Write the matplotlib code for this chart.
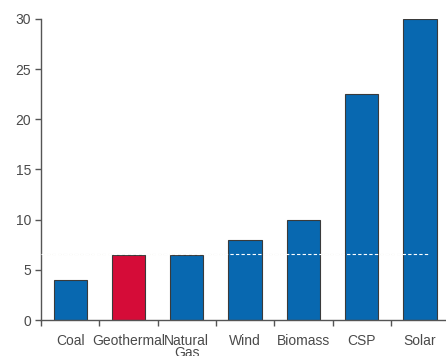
import matplotlib.pyplot as plt
import numpy as np

categories = ['Coal', 'Geothermal', 'Natural\nGas', 'Wind', 'Biomass', 'CSP', 'Solar']
values = [4, 6.5, 6.5, 8, 10, 22.5, 30]
highlight = 'Geothermal'
ref_level = 6.6

plt.rcParams['font.family'] = ['Liberation Sans', 'DejaVu Sans']

fig = plt.figure(figsize=(4.46, 3.56), dpi=100)
ax = fig.add_axes([0.092, 0.101, 0.915, 0.846])

x = np.arange(len(categories))
colors = ['#d50c38' if c == highlight else '#0868b0' for c in categories]
ax.bar(x, values, width=0.57, color=colors, edgecolor='#3a3a3a', linewidth=0.8, zorder=2)

# reference line: white dashes over bars, faint over background
ax.axhline(ref_level, xmin=0, xmax=0.95, color='#ebebdf', linestyle=(0, (3, 2)), linewidth=0.8, zorder=1)
ax.axhline(ref_level, xmin=0, xmax=0.95, color='white', linestyle=(0, (3, 2)), linewidth=0.8, zorder=3)

ax.set_xlim(-0.5, 6.5)
ax.set_ylim(0, 30)
ax.set_yticks(np.arange(0, 31, 5))
ax.set_xticks(x)
ax.set_xticklabels(categories, linespacing=0.85)
ax.set_xticks(np.arange(-0.5, 7, 1), minor=True)
ax.tick_params(axis='x', which='major', length=0, pad=10)
ax.tick_params(axis='x', which='minor', length=4, width=1, color='#555555', direction='out')
ax.tick_params(axis='y', length=4, width=1, color='#555555', direction='out', pad=3)
ax.tick_params(labelsize=10, labelcolor='#4a4a4a')

for side in ['top', 'right']:
    ax.spines[side].set_visible(False)
for side in ['left', 'bottom']:
    ax.spines[side].set_color('#555555')
    ax.spines[side].set_linewidth(1)

fig.savefig('out.png', dpi=100)
